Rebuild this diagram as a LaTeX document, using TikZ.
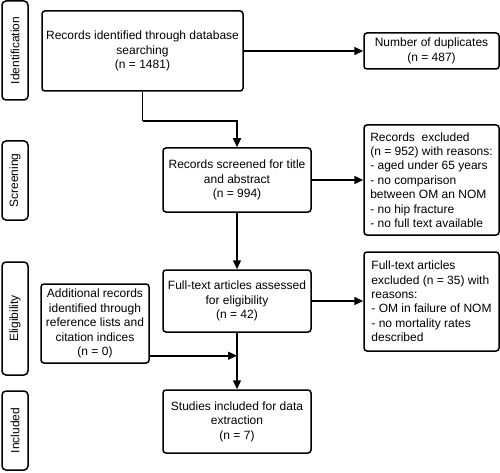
\documentclass[tikz,border=0pt]{standalone}
\usepackage{fontspec}
\setmainfont{Liberation Sans}
\usetikzlibrary{arrows.meta,calc}
\begin{document}
\begin{tikzpicture}[x=1pt,y=-1pt,
  font=\fontsize{12}{14.4}\selectfont,
  box/.style={draw,line width=1.5pt,rounded corners=3pt,align=center,inner sep=3pt},
  lbox/.style={draw,line width=1.5pt,rounded corners=3pt,align=left,minimum width=135pt,inner xsep=3pt,inner ysep=3pt},
  side/.style={draw,line width=1.5pt,rounded corners=4pt,rotate=90,minimum height=26pt,inner sep=2pt},
  arr/.style={line width=1.5pt,-{Triangle[length=9pt,width=8pt]}},
  ln/.style={line width=1.5pt}]
\useasboundingbox (0,0) rectangle (500,473);
\fill[white] (0,0) rectangle (500,473);
% side labels
\node[side,minimum width=99pt] (sid) at (15,50.5) {Identification};
\node[side,minimum width=79pt] (ssc) at (15,180.5) {Screening};
\node[side,minimum width=113pt] (sel) at (15,318.5) {Eligibility};
\node[side,minimum width=79pt] (sin) at (15,430.5) {Included};
% main boxes
\node[box,minimum width=201pt,minimum height=80pt] (rec) at (142.5,51) {Records identified through database\\searching\\(n = 1481)};
\node[box,minimum width=135pt,minimum height=36pt] (dup) at (431.5,51) {Number of duplicates\\(n = 487)};
\node[box,minimum width=148pt,minimum height=64pt] (scr) at (237,180) {Records screened for title\\and abstract\\(n = 994)};
\node[lbox,minimum height=110pt] (ex1) at (431.5,180) {Records\ \ excluded\\(n = 952) with reasons:\\- aged under 65 years\\- no comparison\\between OM an NOM\\- no hip fracture\\- no full text available};
\node[box,minimum width=148pt,minimum height=62pt] (ft) at (237,301) {Full-text articles assessed\\for eligibility\\(n = 42)};
\node[lbox,minimum height=99pt] (ex2) at (431.5,301.5) {Full-text articles\\excluded (n = 35) with\\reasons:\\- OM in failure of NOM\\- no mortality rates\\described};
\node[box,minimum width=108pt,minimum height=79pt] (add) at (95,323.5) {Additional records\\identified through\\reference lists and\\citation indices\\(n = 0)};
\node[box,minimum width=148pt,minimum height=63pt] (inc) at (237,421.5) {Studies included for data\\extraction\\(n = 7)};
% connectors
\coordinate (bend) at (142.5,121);
\draw[arr] (rec.east) -- (rec.east -| dup.west);
\draw[ln] (rec.south) -- (bend);
\draw[arr] (bend) -| (scr.north);
\draw[arr] (scr.east) -- (scr.east -| ex1.west);
\draw[arr] (scr.south) -- (ft.north);
\draw[arr] (ft.east) -- (ft.east -| ex2.west);
\draw[arr] (ft.south) -- (inc.north);
\coordinate (addout) at ($(add.south east)+(0,-8)$);
\draw[arr] (addout) -- (addout -| ft.south);
\end{tikzpicture}
\end{document}
